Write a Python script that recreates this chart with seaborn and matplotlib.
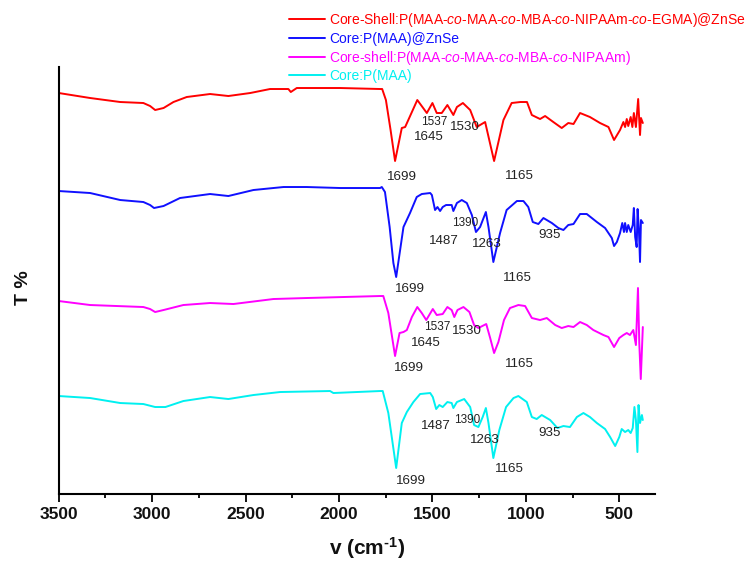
import matplotlib
matplotlib.use("Agg")
import matplotlib.pyplot as plt
from matplotlib.ticker import MultipleLocator
from matplotlib.lines import Line2D
import seaborn as sns
import pandas as pd

# ---------------- data (wavenumber cm-1, transmittance in arbitrary stacked units) ----------------
red_wn = [3500, 3332, 3171, 3047, 3011, 2984, 2939, 2886, 2815, 2690, 2592, 2475, 2369, 2271, 2258, 2226,
          1994, 1780, 1769, 1749, 1724, 1700, 1664, 1646, 1581, 1530, 1500, 1477, 1450, 1420, 1388, 1369,
          1337, 1298, 1263, 1218, 1170, 1120, 1076, 1029, 994, 968, 924, 897, 853, 808, 773, 745, 710, 657,
          603, 558, 528, 496, 478, 469, 460, 452, 439, 430, 422, 411, 399, 389, 384, 374]
red_t = [410, 405, 401, 400, 397, 393, 395, 401, 406, 409, 407, 410, 414, 414, 411, 415,
         415, 414, 414, 403, 373, 342, 375, 376, 403, 390, 400, 390, 390, 398, 388, 396,
         400, 393, 376, 381, 342, 383, 400, 401, 401, 388, 384, 387, 381, 375, 380, 379, 390, 386,
         380, 376, 363, 373, 381, 376, 384, 377, 386, 376, 390, 376, 404, 368, 385, 380]

blue_wn = [3500, 3332, 3171, 3047, 3011, 2990, 2939, 2851, 2690, 2592, 2458, 2297, 2173, 1994, 1780, 1771,
           1754, 1729, 1709, 1694, 1655, 1620, 1584, 1557, 1512, 1503, 1486, 1473, 1459, 1445, 1427, 1397,
           1388, 1369, 1343, 1316, 1289, 1267, 1245, 1214, 1200, 1174, 1138, 1103, 1048, 1013, 987, 963,
           933, 906, 861, 826, 799, 773, 745, 710, 674, 620, 576, 540, 528, 513, 496, 484, 475, 469, 460,
           452, 439, 428, 422, 415, 407, 402, 395, 389, 384, 374]
blue_t = [312, 310, 303, 301, 298, 295, 297, 305, 309, 307, 313, 316, 316, 315, 315, 316,
          311, 276, 240, 226, 276, 290, 306, 309, 310, 308, 293, 296, 292, 296, 298, 298,
          292, 300, 303, 300, 288, 271, 276, 291, 276, 241, 270, 293, 302, 302, 296, 281,
          279, 285, 280, 275, 273, 278, 279, 289, 289, 281, 275, 265, 257, 261, 270, 280, 271, 280, 271,
          278, 271, 278, 295, 266, 256, 294, 273, 241, 283, 280]

mag_wn = [3500, 3332, 3047, 3011, 2984, 2939, 2833, 2690, 2565, 2351, 2173, 1780, 1763, 1736, 1700, 1676,
          1655, 1637, 1610, 1581, 1557, 1533, 1498, 1477, 1445, 1420, 1397, 1383, 1366, 1334, 1302, 1277,
          1254, 1212, 1191, 1170, 1147, 1117, 1085, 1040, 1004, 968, 924, 888, 843, 808, 773, 745, 710, 674,
          639, 585, 558, 528, 500, 478, 460, 443, 425, 411, 400, 393, 385, 374]
mag_t = [202, 198, 196, 194, 191, 193, 198, 200, 199, 204, 205, 207, 207, 190, 147, 170,
         171, 173, 186, 196, 190, 183, 194, 188, 189, 196, 193, 186, 193, 196, 191, 178,
         175, 179, 165, 150, 161, 183, 195, 198, 197, 185, 183, 185, 178, 175, 177, 176, 181, 178,
         173, 168, 166, 156, 165, 168, 170, 168, 173, 158, 215, 160, 124, 176]

cyan_wn = [3500, 3332, 3171, 3047, 2984, 2929, 2833, 2690, 2592, 2458, 2315, 2048, 2030, 1780, 1766, 1736,
           1694, 1664, 1637, 1602, 1566, 1512, 1498, 1480, 1463, 1445, 1420, 1397, 1388, 1369, 1330, 1298,
           1277, 1254, 1231, 1214, 1200, 1174, 1142, 1106, 1066, 1040, 995, 968, 942, 915, 870, 831, 799,
           764, 727, 692, 657, 620, 576, 549, 522, 500, 487, 469, 452, 439, 428, 419, 411, 403, 397, 389,
           379, 374]
cyan_t = [107, 105, 100, 99, 96, 96, 102, 106, 104, 108, 111, 112, 110, 112, 112, 90,
          35, 80, 91, 101, 109, 110, 106, 94, 98, 96, 101, 100, 95, 101, 104, 96,
          78, 76, 86, 95, 80, 45, 73, 96, 105, 107, 101, 86, 84, 88, 83, 75, 77,
          76, 86, 90, 86, 80, 74, 66, 57, 66, 74, 71, 73, 70, 75, 96, 83, 51, 98, 80,
          88, 83]

series_labels = [
    r"Core-Shell:P(MAA-$\mathit{co}$-MAA-$\mathit{co}$-MBA-$\mathit{co}$-NIPAAm-$\mathit{co}$-EGMA)@ZnSe",
    "Core:P(MAA)@ZnSe",
    r"Core-shell:P(MAA-$\mathit{co}$-MAA-$\mathit{co}$-MBA-$\mathit{co}$-NIPAAm)",
    "Core:P(MAA)",
]
series_colors = ["#ff0000", "#1010ff", "#ff00ff", "#00f0f0"]

# peak annotations: (wavenumber position, T position, text, small?)
red_peaks = [(1664, 325.7, "1699", False), (1521, 365.7, "1645", False), (1491, 381.3, "1537", True),
             (1325, 376.3, "1530", False), (1034, 327.3, "1165", False)]
blue_peaks = [(1620, 213.7, "1699", False), (1438, 262.3, "1487", False), (1325, 279.7, "1390", True),
              (1209, 259, "1263", False), (1045, 224.7, "1165", False), (874, 268, "935", False)]
mag_peaks = [(1623, 134.7, "1699", False), (1533, 159.7, "1645", False), (1473, 175.7, "1537", True),
             (1313, 172.3, "1530", False), (1034, 139, "1165", False)]
cyan_peaks = [(1480, 77, "1487", False), (1313, 83, "1390", True), (1218, 63, "1263", False),
              (1089, 33.7, "1165", False), (874, 70.3, "935", False), (1615, 22, "1699", False)]

x_ticks = [3500, 3000, 2500, 2000, 1500, 1000, 500]

# ---------------- style ----------------
sns.set_theme(style="white")
plt.rcParams["font.family"] = ["Liberation Sans", "DejaVu Sans"]
plt.rcParams["mathtext.fontset"] = "custom"
plt.rcParams["mathtext.rm"] = "Liberation Sans:bold"
plt.rcParams["mathtext.it"] = "Liberation Sans:italic"
plt.rcParams["mathtext.bf"] = "Liberation Sans:bold"

fig = plt.figure(figsize=(7.5, 5.65), dpi=100)
ax = fig.add_axes([0.0783, 0.1265, 0.795, 0.7549])

all_wn = [red_wn, blue_wn, mag_wn, cyan_wn]
all_t = [red_t, blue_t, mag_t, cyan_t]
for wn, t, lab, col in zip(all_wn, all_t, series_labels, series_colors):
    df = pd.DataFrame({"wn": wn, "T": t})
    sns.lineplot(data=df, x="wn", y="T", color=col, lw=1.4, ax=ax,
                 estimator=None, sort=False, legend=False)

for peaks in [red_peaks, blue_peaks, mag_peaks, cyan_peaks]:
    for x, y, s, small in peaks:
        ax.text(x, y, s, ha="center", va="center", color="#222222",
                fontsize=8.5 if small else 9.6)

ax.set_xlim(3500, 309)
ax.set_ylim(9.5, 436)
ax.set_xticks(x_ticks)
ax.xaxis.set_minor_locator(MultipleLocator(250))
ax.set_yticks([])
for s in ["top", "right"]:
    ax.spines[s].set_visible(False)
for s in ["left", "bottom"]:
    ax.spines[s].set_color("black")
    ax.spines[s].set_linewidth(1.5)
ax.tick_params(axis="x", which="major", direction="out", length=6, width=1.3,
               color="black", labelsize=12.5, pad=4, bottom=True)
ax.tick_params(axis="x", which="minor", direction="out", length=3, width=1.3,
               color="black", bottom=True)
for lbl in ax.get_xticklabels():
    lbl.set_fontweight("bold")
    lbl.set_color("#111111")

ax.set_xlabel("")
ax.set_ylabel("")
fig.text(367 / 750, 1 - 548 / 565, r"v (cm$^{\text{-1}}$)", ha="center", va="center",
         fontsize=15, fontweight="bold", color="#111111")
fig.text(23 / 750, 1 - 288 / 565, "T %", ha="center", va="center", rotation=90,
         fontsize=14, fontweight="bold", color="#111111")

handles = [Line2D([], [], color=c, lw=1.4) for c in series_colors]
leg = fig.legend(handles, series_labels, loc="upper left",
                 bbox_to_anchor=(289 / 750, 1 - 11 / 565), bbox_transform=fig.transFigure,
                 frameon=False, fontsize=10, handlelength=2.6, handletextpad=0.3,
                 labelspacing=0.2, borderpad=0, borderaxespad=0, labelcolor="linecolor")

fig.savefig("out.png", dpi=100)
